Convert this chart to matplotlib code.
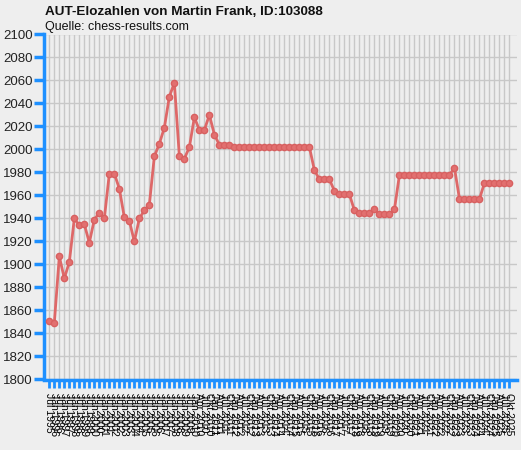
import matplotlib
matplotlib.use("Agg")
import matplotlib.pyplot as plt

# Rating lists: half-yearly Jul 1995 .. Jan 2010, quarterly Apr 2010 .. Okt 2025
halfyear_months = ["Jan", "Jul"]
quarter_months = ["Jan", "Apr", "Jul", "Okt"]

periods = [f"{m} {y}" for y in range(1995, 2011) for m in halfyear_months]
periods = periods[1:-1]  # Jul 1995 .. Jan 2010
periods += [f"{m} {y}" for y in range(2010, 2026) for m in quarter_months][1:]

elo = [1851, 1849, 1907, 1888, 1902, 1940, 1934, 1935, 1919, 1939,
       1945, 1940, 1979, 1979, 1966, 1941, 1938, 1920, 1940, 1947,
       1952, 1994, 2005, 2019, 2046, 2058, 1994, 1992, 2002, 2028,
       2017, 2017, 2030, 2013, 2004, 2004, 2004,
       2002, 2002, 2002, 2002, 2002, 2002, 2002, 2002,
       2002, 2002, 2002, 2002, 2002, 2002, 2002, 2002,
       1982, 1974, 1974, 1974, 1964, 1961, 1961, 1961,
       1947, 1945, 1945, 1945, 1948, 1944, 1944, 1944, 1948,
       1978, 1978, 1978, 1978, 1978, 1978, 1978, 1978, 1978, 1978, 1978,
       1984, 1957, 1957, 1957, 1957, 1957,
       1971, 1971, 1971, 1971, 1971, 1971]

yticks = list(range(1800, 2101, 20))

BLUE = "#1e90ff"
BG = "#eeeeee"

plt.rcParams['font.family'] = ['Liberation Sans', 'DejaVu Sans']

fig = plt.figure(figsize=(5.21, 4.50), dpi=100, facecolor=BG)
ax = fig.add_axes([44 / 521, 1 - 379.5 / 450, (517 - 44) / 521, (379.5 - 34.5) / 450])
ax.set_facecolor(BG)

x = list(range(len(elo)))
ax.plot(x, elo, color="#de6868", linewidth=2.0, marker="o", markersize=4.5,
        markerfacecolor="#e27070", markeredgecolor="#d86060",
        markeredgewidth=1, zorder=3)

ax.set_xlim(-1.06, len(elo) + 0.5)
ax.set_ylim(1800, 2100)
ax.set_yticks(yticks)
ax.set_xticks(x)
ax.set_xticklabels(periods[:len(elo)], rotation=-90, fontsize=7.5)

ax.grid(True, color="#c8c8c8", linewidth=1.0, zorder=0)
ax.set_axisbelow(True)

for side in ["top", "right"]:
    ax.spines[side].set_visible(False)
for side in ["left", "bottom"]:
    ax.spines[side].set_color(BLUE)
    ax.spines[side].set_linewidth(2.5)

ax.tick_params(axis="y", colors=BLUE, length=7, width=2.5, labelsize=9.5,
               labelcolor="#222222", pad=1)
ax.tick_params(axis="x", colors=BLUE, length=6, width=2, labelcolor="black",
               pad=4)

fig.text(45 / 521, 1 - 12 / 450, "AUT-Elozahlen von Martin Frank, ID:103088",
         fontsize=9.7, fontweight="bold", va="center", color="#111111")
fig.text(45 / 521, 1 - 27 / 450, "Quelle: chess-results.com",
         fontsize=9, va="center", color="#111111")

fig.savefig("out.png", dpi=100, facecolor=BG)
